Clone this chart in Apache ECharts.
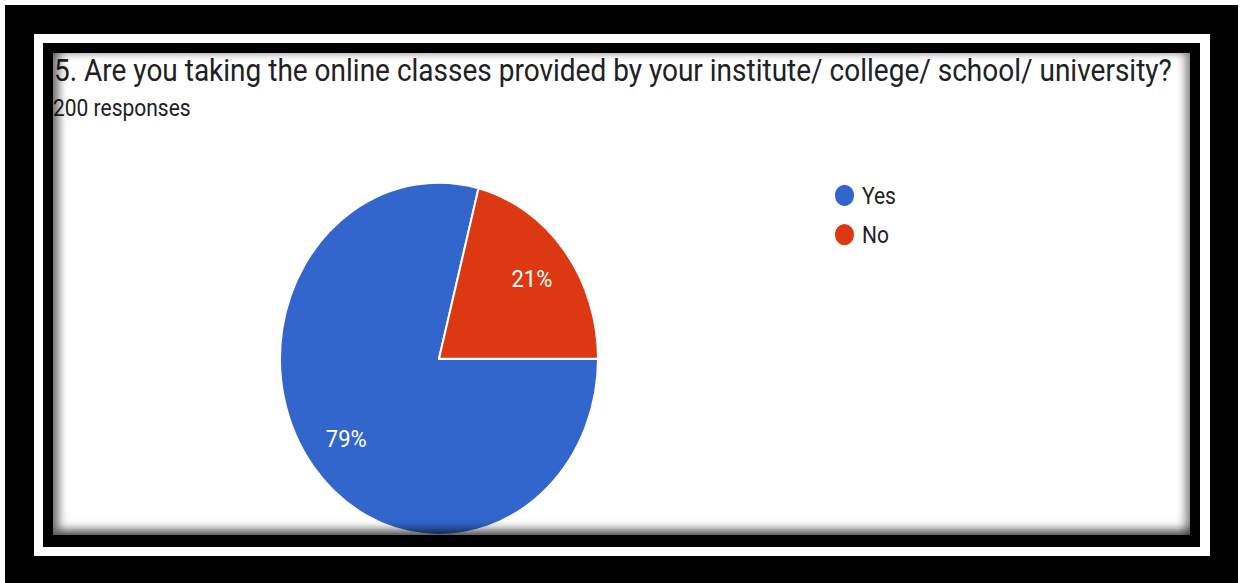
<!DOCTYPE html>
<html>
<head>
<meta charset="utf-8">
<script src="https://cdn.jsdelivr.net/npm/echarts@6/dist/echarts.min.js"></script>
<style>
  html, body { margin: 0; padding: 0; width: 1241px; height: 583px; overflow: hidden; background: #ffffff; }
  #outer { position: absolute; left: 5px; top: 5px; width: 1233px; height: 578px; background: #000; }
  #band { position: absolute; left: 34px; top: 34px; width: 1176px; height: 522px; background: #fff; }
  #inner { position: absolute; left: 43px; top: 43px; width: 1157px; height: 504px; background: #000; }
  #content { position: absolute; left: 53px; top: 53px; width: 1137px; height: 482px; background: #fff; }
  #chart { position: absolute; left: 53px; top: 53px; width: 1137px; height: 435px; transform-origin: 0 0; transform: scaleY(1.108); }
  #shade { position: absolute; left: 53px; top: 53px; width: 1137px; height: 482px; box-shadow: inset 6px -6px 10px rgba(0,0,0,0.55), inset -5px 0 9px rgba(0,0,0,0.45); pointer-events: none; }
</style>
</head>
<body>
<div id="outer"></div>
<div id="band"></div>
<div id="inner"></div>
<div id="content"></div>
<div id="chart"></div>
<div id="shade"></div>
<script>
const titleText = '5. Are you taking the online classes provided by your institute/ college/ school/ university?';
const subtitleText = '200 responses';
const categories = ['Yes', 'No'];
const values = [79, 21];
const colors = ['#3366cc', '#dc3912'];

const pieData = categories.map((c, i) => ({ name: c, value: values[i], itemStyle: { color: colors[i] } }));
const labelData = categories.map((c, i) => ({ name: c, value: values[i] }));

const chart = echarts.init(document.getElementById('chart'), null, { renderer: 'svg' });
const R = 159;
const center = [386, 276];
chart.setOption({
  animation: false,
  title: [
    { text: titleText, left: 1, top: 1, padding: 0,
      textStyle: { fontFamily: 'Roboto', fontWeight: 'normal', fontSize: 28, lineHeight: 30, color: '#202124' } },
    { text: subtitleText, left: 0, top: 39, padding: 0,
      textStyle: { fontFamily: 'Roboto', fontWeight: 'normal', fontSize: 21, lineHeight: 21, color: '#202124' } }
  ],
  legend: {
    orient: 'vertical', left: 780, top: 117, padding: 0,
    icon: 'circle', itemWidth: 21, itemHeight: 21, itemGap: 12.4,
    data: categories,
    textStyle: { fontFamily: 'Roboto', fontSize: 21, lineHeight: 21, color: '#222222', padding: [0, 0, 0, 2] }
  },
  series: [
    {
      type: 'pie', radius: [0, R], center: center, startAngle: 0, clockwise: true,
      data: pieData,
      itemStyle: { borderColor: '#ffffff', borderWidth: 2 },
      label: { show: false }, labelLine: { show: false }, emphasis: { disabled: true }
    },
    {
      type: 'pie', radius: [R * 0.44, R], center: center, startAngle: 0, clockwise: true,
      data: labelData, silent: true, legendHoverLink: false,
      itemStyle: { color: 'rgba(0,0,0,0)', borderWidth: 0 },
      label: { show: true, position: 'inside', formatter: '{d}%', color: '#ffffff', fontFamily: 'Roboto', fontSize: 22 },
      labelLine: { show: false }, emphasis: { disabled: true }
    }
  ]
});
</script>
</body>
</html>
